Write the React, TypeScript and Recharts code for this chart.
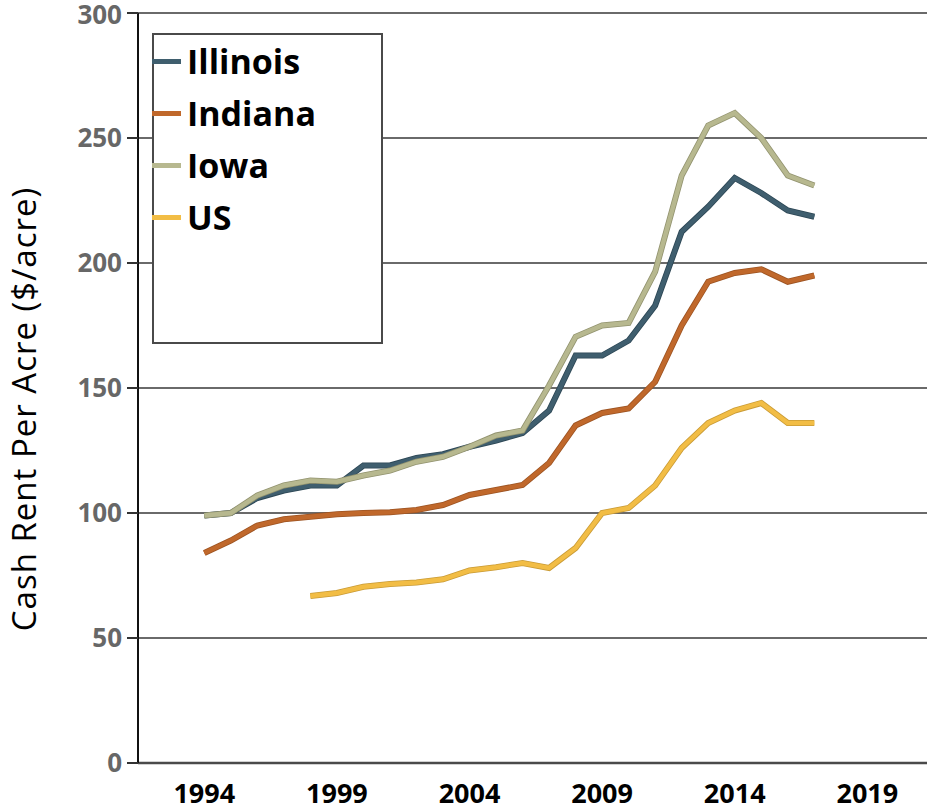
import React from "react";
import { LineChart, Line, XAxis, YAxis, CartesianGrid, Legend, Label } from "recharts";

const years = [1994, 1995, 1996, 1997, 1998, 1999, 2000, 2001, 2002, 2003, 2004, 2005, 2006, 2007, 2008, 2009, 2010, 2011, 2012, 2013, 2014, 2015, 2016, 2017];
const illinois = [99, 100, 106, 109, 111, 111, 119, 119, 122, 123.5, 126.5, 129, 132, 141, 163, 163, 169, 183, 212.5, 222.5, 234, 228, 221, 218.5];
const indiana = [84, 89, 95, 97.5, 98.5, 99.5, 100, 100.3, 101.2, 103.2, 107.2, 109.2, 111.2, 120, 135, 140, 141.8, 152.5, 175, 192.5, 196, 197.5, 192.5, 195];
const iowa = [99, 100, 107, 111, 113, 112.5, 115, 117, 120.5, 122.5, 126.5, 131, 133, 151, 170.5, 175, 176, 196.5, 235, 255, 260, 250, 235, 231];
const us = [null, null, null, null, 66.8, 68, 70.5, 71.6, 72.2, 73.5, 77, 78.3, 80, 78, 86, 100, 102, 111, 126, 136, 141, 144, 136, 136];

const xTicks = [1994, 1999, 2004, 2009, 2014, 2019];
const yTicks = [0, 50, 100, 150, 200, 250, 300];

const seriesDefs = [
  { key: "Illinois", color: "#3f5e6e", edge: "#2c4654" },
  { key: "Indiana", color: "#c0682b", edge: "#9c5322" },
  { key: "Iowa", color: "#b7b88f", edge: "#92936f" },
  { key: "US", color: "#f2bd45", edge: "#c99b36" },
];

const data = years.map((y, i) => ({
  year: y,
  Illinois: illinois[i],
  Indiana: indiana[i],
  Iowa: iowa[i],
  US: us[i],
}));

const FONT = "'Open Sans', sans-serif";

const LegendBox = (props: any) => {
  const items = (props.payload || []).filter((p: any) => p.type !== "none");
  const seen = new Set<string>();
  const uniq = items.filter((p: any) => {
    if (seen.has(p.value)) return false;
    seen.add(p.value);
    return true;
  });
  return (
    <div
      style={{
        boxSizing: "border-box",
        width: 231,
        height: 311,
        border: "2px solid #4a4a4a",
        background: "#fff",
        fontFamily: FONT,
      }}
    >
      {uniq.map((p: any) => (
        <div key={p.value} style={{ display: "flex", alignItems: "center", height: 52 }}>
          <span style={{ display: "inline-block", width: 29, height: 5, background: p.color, marginLeft: -2 }} />
          <span style={{ marginLeft: 6, fontWeight: 700, fontSize: 34, lineHeight: "52px", color: "#000" }}>{p.value}</span>
        </div>
      ))}
    </div>
  );
};

const YTitle = (props: any) => {
  const vb = props.viewBox || { x: 0, y: 0, width: 0, height: 0 };
  const cx = vb.x + 36;
  const cy = vb.y + vb.height / 2 + 21;
  return (
    <text
      x={cx}
      y={cy}
      transform={`rotate(-90 ${cx} ${cy})`}
      textAnchor="middle"
      style={{ fontFamily: FONT, fontSize: 33, letterSpacing: 1, fill: "#000" }}
    >
      Cash Rent Per Acre ($/acre)
    </text>
  );
};

export default function App() {
  return (
    <div style={{ position: "absolute", left: 0, top: 0, width: 927, height: 812, background: "#fff" }}>
      <LineChart width={927} height={812} data={data} margin={{ top: 13, right: 0, bottom: 0, left: 0 }}>
        <CartesianGrid vertical={false} stroke="#383838" strokeWidth={1.6} />
        <XAxis
          dataKey="year"
          type="number"
          domain={[1991.5, 2021.25]}
          ticks={xTicks}
          allowDataOverflow
          height={49}
          axisLine={{ stroke: "#4a4a4a", strokeWidth: 2.5 }}
          tickLine={false}
          tickSize={17}
          tickMargin={4}
          tick={{ fill: "#000", fontFamily: FONT, fontWeight: 700, fontSize: 27 }}
        />
        <YAxis
          domain={[0, 300]}
          ticks={yTicks}
          width={138}
          axisLine={{ stroke: "#111", strokeWidth: 2 }}
          tickLine={{ stroke: "#333", strokeWidth: 2 }}
          tickSize={11}
          tickMargin={5}
          tick={{ fill: "#676767", fontFamily: FONT, fontWeight: 700, fontSize: 26 }}
        >
          <Label content={<YTitle />} />
        </YAxis>
        <Legend
          layout="horizontal"
          verticalAlign="middle"
          align="center"
          content={<LegendBox />}
          wrapperStyle={{ position: "absolute", left: 152, top: 33, width: 231, height: 311 }}
        />
        {seriesDefs.flatMap((s) => [
          <Line
            key={s.key + "-edge"}
            dataKey={s.key}
            stroke={s.edge}
            strokeWidth={6}
            dot={false}
            activeDot={false}
            legendType="none"
            isAnimationActive={false}
          />,
          <Line
            key={s.key}
            dataKey={s.key}
            name={s.key}
            stroke={s.color}
            strokeWidth={4.4}
            dot={false}
            activeDot={false}
            isAnimationActive={false}
          />,
        ])}
      </LineChart>
    </div>
  );
}
